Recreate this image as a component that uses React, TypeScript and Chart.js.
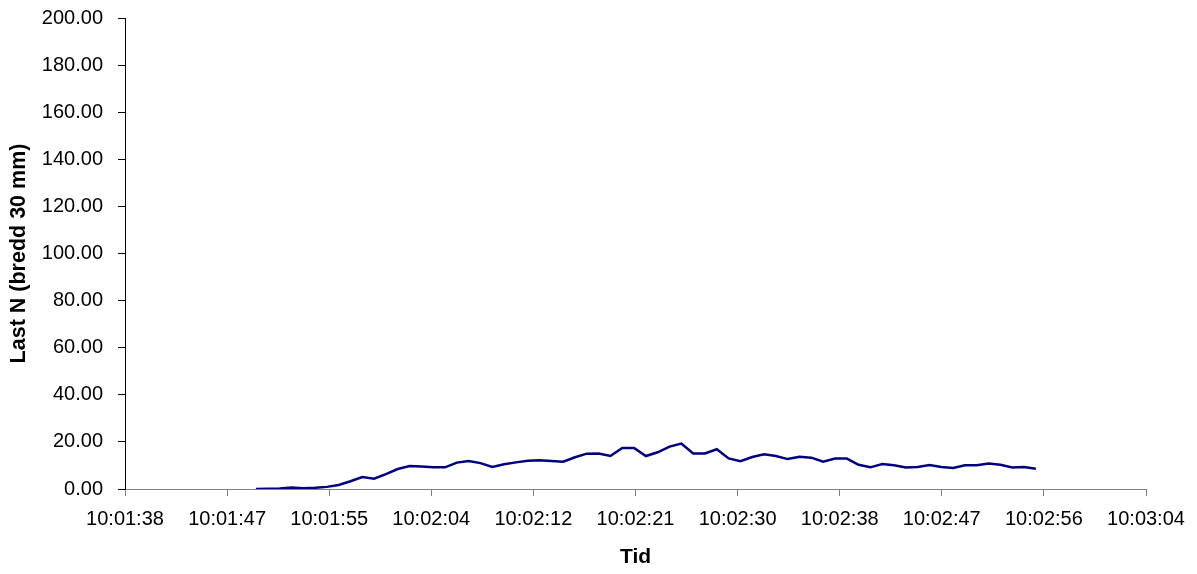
import React, { useEffect, useRef } from "react";
import { Chart, registerables } from "chart.js";

Chart.register(...registerables);

const times: string[] = [
  "10:01:49", "10:01:50", "10:01:51", "10:01:52", "10:01:53", "10:01:54", "10:01:55", "10:01:56",
  "10:01:57", "10:01:58", "10:01:59", "10:02:00", "10:02:01", "10:02:02", "10:02:03", "10:02:04",
  "10:02:05", "10:02:06", "10:02:07", "10:02:08", "10:02:09", "10:02:10", "10:02:11", "10:02:12",
  "10:02:13", "10:02:14", "10:02:15", "10:02:16", "10:02:17", "10:02:18", "10:02:19", "10:02:20",
  "10:02:21", "10:02:22", "10:02:23", "10:02:24", "10:02:25", "10:02:26", "10:02:27", "10:02:28",
  "10:02:29", "10:02:30", "10:02:31", "10:02:32", "10:02:33", "10:02:34", "10:02:35", "10:02:36",
  "10:02:37", "10:02:38", "10:02:39", "10:02:40", "10:02:41", "10:02:42", "10:02:43", "10:02:44",
  "10:02:45", "10:02:46", "10:02:47", "10:02:48", "10:02:49", "10:02:50", "10:02:51", "10:02:52",
  "10:02:53", "10:02:54", "10:02:55",
];

const loads: number[] = [
  0.0, 0.1, 0.2, 0.6, 0.3, 0.5, 0.9, 1.7,
  3.3, 5.1, 4.4, 6.3, 8.5, 9.8, 9.6, 9.2,
  9.2, 11.2, 11.9, 11.0, 9.4, 10.5, 11.3, 12.0,
  12.2, 11.9, 11.6, 13.5, 15.0, 15.1, 14.0, 17.4,
  17.4, 14.0, 15.6, 18.0, 19.3, 15.1, 15.1, 16.9,
  13.0, 11.8, 13.6, 14.7, 14.0, 12.7, 13.7, 13.3,
  11.6, 12.9, 12.9, 10.3, 9.2, 10.6, 10.1, 9.1,
  9.3, 10.2, 9.3, 8.9, 10.1, 10.1, 10.8, 10.3,
  9.1, 9.3, 8.6,
];

const xTickLabels: string[] = [
  "10:01:38", "10:01:47", "10:01:55", "10:02:04", "10:02:12", "10:02:21",
  "10:02:30", "10:02:38", "10:02:47", "10:02:56", "10:03:04",
];

// Excel time axis: start 0.4178 day, major unit 0.0001 day (in seconds)
const X_MIN = 36097.92;
const X_STEP = 8.64;

const toSec = (t: string) => {
  const [h, m, s] = t.split(":").map(Number);
  return h * 3600 + m * 60 + s;
};

const FONT = "'Liberation Sans', Arial, sans-serif";

export default function App() {
  const ref = useRef<HTMLCanvasElement | null>(null);

  useEffect(() => {
    if (!ref.current) return;
    const chart = new Chart(ref.current, {
      type: "line",
      data: {
        datasets: [
          {
            data: times.map((t, i) => ({ x: toSec(t), y: loads[i] })),
            borderColor: "#000080",
            borderWidth: 2.5,
            pointRadius: 0,
            tension: 0,
            fill: false,
          },
        ],
      },
      options: {
        responsive: false,
        animation: false,
        layout: { padding: { top: 18, right: 51, bottom: 0, left: 0 } },
        plugins: { legend: { display: false }, tooltip: { enabled: false } },
        scales: {
          x: {
            type: "linear",
            min: X_MIN,
            max: X_MIN + X_STEP * (xTickLabels.length - 1),
            afterBuildTicks: (scale: any) => {
              scale.ticks = xTickLabels.map((_, i) => ({ value: X_MIN + i * X_STEP }));
            },
            afterFit: (scale: any) => {
              scale.height = 85;
            },
            ticks: {
              autoSkip: false,
              maxRotation: 0,
              padding: 11,
              color: "#000",
              font: { family: FONT, size: 20 },
              callback: (_v: any, i: number) => xTickLabels[i],
            },
            grid: { drawOnChartArea: false, drawTicks: true, tickLength: 7, color: "#808080" },
            border: { color: "#808080", width: 1 },
            title: {
              display: true,
              text: "Tid",
              color: "#000",
              font: { family: FONT, size: 21, weight: "bold" },
              padding: { top: 0, bottom: 4 },
            },
          },
          y: {
            min: 0,
            max: 200,
            afterFit: (scale: any) => {
              scale.width = 125;
              scale.paddingTop = 0;
              scale.paddingBottom = 0;
            },
            ticks: {
              stepSize: 20,
              padding: 15,
              color: "#000",
              font: { family: FONT, size: 20 },
              callback: (v: any) => Number(v).toFixed(2),
            },
            grid: { drawOnChartArea: false, drawTicks: true, tickLength: 7, color: "#000" },
            border: { color: "#000", width: 1 },
            title: {
              display: true,
              text: "Last N (bredd 30 mm)",
              color: "#000",
              font: { family: FONT, size: 21.5, weight: "bold" },
              padding: { top: 6, bottom: 0 },
            },
          },
        },
      },
    });
    return () => chart.destroy();
  }, []);

  return (
    <div style={{ position: "absolute", left: 0, top: 0, width: 1197, height: 574, background: "#fff" }}>
      <canvas ref={ref} width={1197} height={574} style={{ display: "block" }} />
    </div>
  );
}
